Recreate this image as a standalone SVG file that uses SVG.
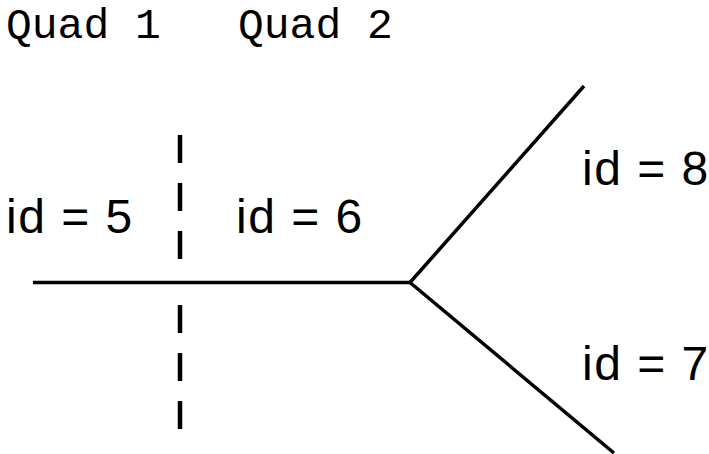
<svg xmlns="http://www.w3.org/2000/svg" width="709" height="454" viewBox="0 0 709 454">
  <style>
    .quad { font-family: "Liberation Mono", "Courier New", monospace; font-size: 43px; fill: #000; }
    .lbl { font-family: "Liberation Sans", Arial, sans-serif; font-size: 48px; letter-spacing: 1.5px; fill: #000; }
    .edge { stroke: #000; stroke-width: 3.5; fill: none; }
    .div { stroke: #000; stroke-width: 4.5; stroke-dasharray: 28 20; fill: none; }
  </style>
  <rect width="709" height="454" fill="#fff"/>
  <g id="headers">
    <text class="quad" x="6" y="38">Quad 1</text>
    <text class="quad" x="238" y="38">Quad 2</text>
  </g>
  <g id="connectors">
    <line class="edge" x1="33" y1="282.5" x2="410" y2="282.5"/>
    <line class="edge" x1="410" y1="282.5" x2="584" y2="86"/>
    <line class="edge" x1="410" y1="282.5" x2="614" y2="453"/>
    <line class="div" x1="180" y1="135" x2="180" y2="260"/>
    <line class="div" x1="180" y1="305" x2="180" y2="431"/>
  </g>
  <g id="node5"><text class="lbl" x="6" y="233">id = 5</text></g>
  <g id="node6"><text class="lbl" x="236" y="233">id = 6</text></g>
  <g id="node8"><text class="lbl" x="582" y="185">id = 8</text></g>
  <g id="node7"><text class="lbl" x="582" y="380">id = 7</text></g>
</svg>
